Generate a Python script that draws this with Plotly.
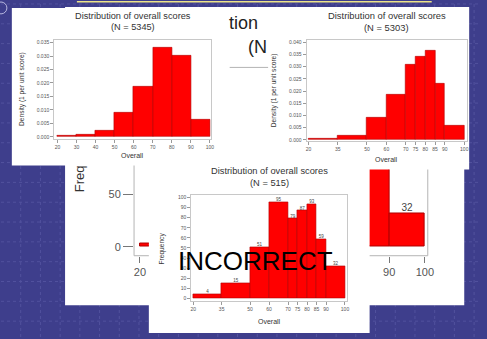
import plotly.graph_objects as go

# ---- data -------------------------------------------------------------
# equal-width score bins (density, larger sample)
bins_equal = [20, 30, 40, 50, 60, 70, 80, 90, 100]
density_equal = [0.0006, 0.0009, 0.0022, 0.0088, 0.0187, 0.0332, 0.0303, 0.0064]

# unequal score bins used for the finer histograms
bins_fine = [20, 35, 50, 60, 70, 75, 80, 85, 90, 100]
density_fine = [0.0003, 0.0016, 0.0092, 0.0186, 0.0309, 0.0342, 0.0366, 0.0231, 0.0057]
count_fine = [4, 15, 51, 95, 79, 87, 93, 59, 32]

# frequency version with ten-point bins
count_equal = [3, 5, 11, 51, 95, 166, 152, 32]

title_main = "Distribution of overall scores"
n_left = "(N = 5345)"
n_right = "(N = 5303)"
n_small = "(N = 515)"
x_label = "Overall"
dens_label = "Density (1 per unit score)"
freq_label = "Frequency"

# parts of the large chart's heading and axis title left uncovered
big_title_tail = "tion"
big_n_head = "(N"
big_freq_head = "Freq"

ticks_equal = [20, 30, 40, 50, 60, 70, 80, 90, 100]
ticks_fine = [20, 35, 50, 60, 70, 75, 80, 85, 90, 100]

# ---- geometry helpers -------------------------------------------------
W, H = 487, 339
FONT = "Liberation Sans"
BLUE = "#3e3e8c"
RED = "#ff0000"
EDGE = "#b00000"


def xd(a, b):
    return [a / W, b / W]


def yd(top, bottom):
    return [1 - bottom / H, 1 - top / H]


def rng(p_lo, p_hi, v1, p1, v2, p2):
    s = (v2 - v1) / (p2 - p1)
    return [v1 + (p_lo - p1) * s, v1 + (p_hi - p1) * s]


def centers(edges):
    return [(a + b) / 2 for a, b in zip(edges[:-1], edges[1:])]


def widths(edges):
    return [b - a for a, b in zip(edges[:-1], edges[1:])]


fig = go.Figure()
layout = {}


def axis_keys(n):
    return ("xaxis" if n == 1 else f"xaxis{n}", "yaxis" if n == 1 else f"yaxis{n}",
            "x" if n == 1 else f"x{n}", "y" if n == 1 else f"y{n}")


def small_panel(n, box, xmap, ymap, xticks, yticks, yfmt):
    # box = (left, top, right, bottom) in pixels
    l, t, r, b = box
    xk, yk, xa, ya = axis_keys(n)
    common = dict(ticks="outside", ticklen=3, tickcolor="#9a9a9a", tickwidth=1,
                  tickfont=dict(family=FONT, size=5, color="#555"),
                  showline=True, mirror=True, linecolor="#c8c8c8", linewidth=1,
                  showgrid=False, zeroline=False, fixedrange=True)
    layout[xk] = dict(domain=xd(l, r), anchor=ya, range=rng(l, r, *xmap),
                      tickmode="array", tickvals=xticks, **common)
    layout[yk] = dict(domain=yd(t, b), anchor=xa, range=rng(b, t, *ymap),
                      tickmode="array", tickvals=yticks, tickformat=yfmt, **common)
    return xa, ya


# left density panel
xa1, ya1 = small_panel(1, (54, 39, 213, 139), (20, 57.3, 100, 212), (0, 137, 0.035, 42),
                       ticks_equal, [i * 0.005 for i in range(8)], ".3f")
fig.add_bar(x=centers(bins_equal), y=density_equal, width=widths(bins_equal),
            marker=dict(color=RED, line=dict(color=EDGE, width=0.6)), xaxis=xa1, yaxis=ya1)

# top-right density panel
xa2, ya2 = small_panel(2, (310, 39, 473, 141), (20, 312, 100, 470), (0, 140, 0.04, 41.7),
                       ticks_fine, [i * 0.005 for i in range(9)], ".3f")
fig.add_bar(x=centers(bins_fine), y=density_fine, width=widths(bins_fine),
            marker=dict(color=RED, line=dict(color=EDGE, width=0.6)), xaxis=xa2, yaxis=ya2)

# front frequency panel
xa3, ya3 = small_panel(3, (193, 196, 351, 303), (20, 195, 100, 349), (0, 300, 100, 198.3),
                       ticks_fine, list(range(0, 101, 10)), "d")
fig.add_bar(x=centers(bins_fine), y=count_fine, width=widths(bins_fine),
            marker=dict(color=RED, line=dict(color=EDGE, width=0.6)), xaxis=xa3, yaxis=ya3)
fig.add_scatter(x=centers(bins_fine), y=count_fine, text=[str(v) for v in count_fine],
                mode="text", textposition="top center",
                textfont=dict(family=FONT, size=4.5, color="#444"), xaxis=xa3, yaxis=ya3)

# large frequency chart behind: only its uncovered windows are plotted
BX = (20, 141, 100, 430)      # value/pixel pairs along x
BY = (0, 248, 50, 195)        # value/pixel pairs along y
back_tick = dict(ticks="outside", ticklen=10, tickcolor="#777", tickwidth=1,
                 tickfont=dict(family=FONT, size=11, color="#555"),
                 showline=False, showgrid=False, zeroline=False, fixedrange=True)


def back_window(n, box, show_y):
    l, t, r, b = box
    xk, yk, xa, ya = axis_keys(n)
    layout[xk] = dict(domain=xd(l, r), anchor=ya, range=rng(l, r, *BX),
                      tickmode="array", tickvals=ticks_equal, **back_tick)
    layout[xk]["ticklen"] = 6
    ycfg = dict(domain=yd(t, b), anchor=xa, range=rng(b, t, *BY),
                tickmode="array", tickvals=[0, 50, 100, 150], **back_tick)
    if not show_y:
        ycfg.update(showticklabels=False, ticks="")
    layout[yk] = ycfg
    fig.add_bar(x=centers(bins_equal), y=count_equal, width=widths(bins_equal),
                marker=dict(color=RED, line=dict(color=EDGE, width=1)), xaxis=xa, yaxis=ya)
    fig.add_scatter(x=centers(bins_equal), y=count_equal, text=[str(v) for v in count_equal],
                    mode="text", textposition="top center", cliponaxis=True,
                    textfont=dict(family=FONT, size=10, color="#444"), xaxis=xa, yaxis=ya)


back_window(4, (135, 166, 150, 257), True)
back_window(5, (374, 170, 433, 257), False)

# ---- slide decoration and panels (shapes, drawn beneath the plots) ----
shapes = []
grid = dict(color="#52529e", width=1, dash="3px,3px")
for gx in range(20, W, 20):
    shapes.append(dict(type="line", xref="paper", yref="paper", x0=gx / W, x1=gx / W,
                       y0=0, y1=1, line=grid, layer="below"))
for gy in range(3, H, 20):
    shapes.append(dict(type="line", xref="paper", yref="paper", x0=0, x1=1,
                       y0=1 - gy / H, y1=1 - gy / H, line=grid, layer="below"))
shapes.append(dict(type="rect", xref="paper", yref="paper", x0=77 / W, x1=437 / W,
                   y0=1 - 1.6 / H, y1=1, fillcolor="#ece38a", line=dict(width=0), layer="below"))
shapes.append(dict(type="circle", xref="paper", yref="paper", x0=-6 / W, x1=6 / W,
                   y0=1 - 13 / H, y1=1 - 1 / H, line=dict(color="#b8b8e0", width=1), layer="below"))


def panel(l, t, r, b):
    shapes.append(dict(type="rect", xref="paper", yref="paper", x0=l / W, x1=r / W,
                       y0=1 - b / H, y1=1 - t / H, fillcolor="white", line=dict(width=0),
                       layer="below"))


panel(65, 6, 470, 307)          # chart behind
shapes.append(dict(type="rect", xref="paper", yref="paper", x0=135 / W, x1=433 / W,
                   y0=1 - 257 / H, y1=1 - 67 / H, line=dict(color="#b4b4b4", width=1),
                   layer="below"))
panel(11, 7, 232, 166)          # left density
panel(271, 6, 475, 170)         # right density
panel(150, 163, 374, 335)       # front frequency

# ---- text -------------------------------------------------------------
ann = []


def txt(x, y, s, size, color="#333", angle=0, xanchor="center"):
    ann.append(dict(x=x / W, y=1 - y / H, xref="paper", yref="paper", text=s,
                    showarrow=False, xanchor=xanchor, yanchor="middle", textangle=angle,
                    font=dict(family=FONT, size=size, color=color)))


txt(133.5, 15, title_main, 9.2)
txt(133.5, 26.5, n_left, 9.2)
txt(133.5, 156, x_label, 7)
txt(22, 89, dens_label, 6.6, angle=-90)

txt(391.5, 15, title_main, 9.4)
txt(391.5, 27, n_right, 9.4)
txt(391.5, 160, x_label, 7)
txt(277, 90, dens_label, 6.6, angle=-90)

txt(272, 172, title_main, 9.3)
txt(272, 184, n_small, 9.3)
txt(272, 323, x_label, 7)
txt(163, 250, freq_label, 6.6, angle=-90)

# heading and axis title pieces of the large chart
txt(262.5, 22, big_title_tail, 18, "#222", xanchor="right")
txt(249, 46, big_n_head, 18, "#222", xanchor="left")
txt(80.5, 179.5, big_freq_head, 13, "#333", angle=-90)

txt(258.5, 262, "INCORRECT", 26, "#000")

layout.update(width=W, height=H, margin=dict(l=0, r=0, t=0, b=0), autosize=False,
              paper_bgcolor=BLUE, plot_bgcolor="rgba(0,0,0,0)", showlegend=False,
              bargap=0, shapes=shapes, annotations=ann)
fig.update_layout(**layout)
fig.write_html("out.html")
